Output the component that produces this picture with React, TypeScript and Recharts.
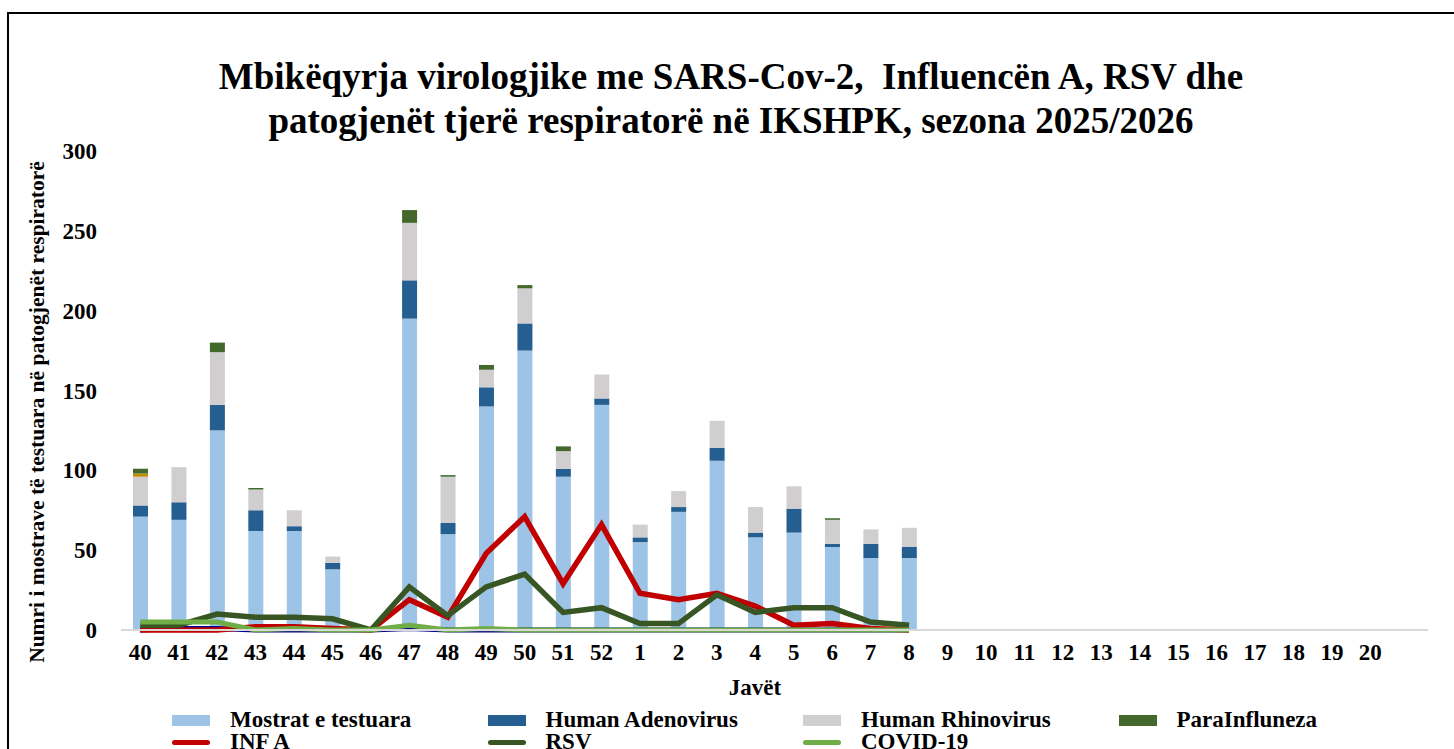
import React from 'react';
import { ComposedChart, Bar, Line, XAxis, YAxis } from 'recharts';

// week labels (last slot has no label)
const weeks = ['40', '41', '42', '43', '44', '45', '46', '47', '48', '49', '50', '51', '52',
  '1', '2', '3', '4', '5', '6', '7', '8', '9', '10', '11', '12', '13', '14', '15', '16', '17', '18', '19', '20', ''];

const mostrat = [71, 69, 125, 62, 62, 38, 0, 195, 60, 140, 175, 96, 141, 55, 74, 106, 58, 61, 52, 45, 45];
const adenovirus = [7, 11, 16, 13, 3, 4, 0, 24, 7, 12, 17, 5, 4, 3, 3, 8, 3, 15, 2, 9, 7];
const rhinovirus = [18, 22, 33, 13, 10, 4, 0, 36, 29, 11, 22, 11, 15, 8, 10, 17, 16, 14, 15, 9, 12];
const infB = [2, 0, 0, 0, 0, 0, 0, 0, 0, 0, 0, 0, 0, 0, 0, 0, 0, 0, 0, 0, 0];
const paraInfluneza = [3, 0, 6, 1, 0, 0, 0, 8, 1, 3, 2, 3, 0, 0, 0, 0, 0, 0, 1, 0, 0];

const infA = [0, 0, 0, 2, 2, 1, 0, 19, 8, 48, 71, 29, 66, 23, 19, 23, 15, 3, 4, 1, 0];
const rsv = [3, 3, 10, 8, 8, 7, 0, 27, 9, 27, 35, 11, 14, 4, 4, 22, 11, 14, 14, 5, 3];
const covid = [5, 5, 5, 0, 1, 0, 0, 3, 0, 1, 0, 0, 0, 0, 0, 0, 0, 0, 0, 0, 0];
const navyLine = [0, 1, 1, 0, 0, 0, 0, 1, 0, 0, 0, 0, 0, 0, 0, 0, 0, 0, 0, 0, 0];

const yTicks = [0, 50, 100, 150, 200, 250, 300];

const pick = (arr: number[], i: number) => (i < arr.length ? arr[i] : null);

const data = weeks.map((week, i) => ({
  week,
  mostrat: pick(mostrat, i),
  adeno: pick(adenovirus, i),
  rhino: pick(rhinovirus, i),
  infB: pick(infB, i),
  para: pick(paraInfluneza, i),
  infA: pick(infA, i),
  rsv: pick(rsv, i),
  covid: pick(covid, i),
  navy: pick(navyLine, i),
}));

const font = '"Liberation Serif", "Times New Roman", serif';

const legendItems = [
  { label: 'Mostrat e testuara', color: '#9dc3e6', kind: 'bar' },
  { label: 'Human Adenovirus', color: '#255e91', kind: 'bar' },
  { label: 'Human Rhinovirus', color: '#d0cece', kind: 'bar' },
  { label: 'ParaInfluneza', color: '#43682b', kind: 'bar' },
  { label: 'INF A', color: '#c00000', kind: 'line' },
  { label: 'RSV', color: '#375623', kind: 'line' },
  { label: 'COVID-19', color: '#70ad47', kind: 'line' },
];

const App: React.FC = () => {
  return (
    <div style={{ position: 'absolute', left: 0, top: 0, width: 1454, height: 749, overflow: 'hidden', background: '#fff', fontFamily: font }}>
      <div style={{ position: 'absolute', left: 7, top: 12, width: 1500, height: 800, border: '2.5px solid #000', boxSizing: 'border-box' }} />
      <div style={{ position: 'absolute', left: 0, width: 1462, top: 55, textAlign: 'center', fontWeight: 'bold', fontSize: 37, lineHeight: '44px', color: '#000' }}>
        Mbikëqyrja virologjike me SARS-Cov-2,&nbsp; Influencën A, RSV dhe<br />
        patogjenët tjerë respiratorë në IKSHPK, sezona 2025/2026
      </div>
      <div style={{ position: 'absolute', left: 37, top: 412, transform: 'translate(-50%, -50%) rotate(-90deg)', whiteSpace: 'nowrap', fontWeight: 'bold', fontSize: 21.5 }}>
        Numri i mostrave të testuara në patogjenët respiratorë
      </div>
      <div style={{ position: 'absolute', left: 755, top: 688, transform: 'translate(-50%, -50%)', fontWeight: 'bold', fontSize: 23 }}>
        Javët
      </div>
      <ComposedChart
        width={1454}
        height={749}
        data={data}
        margin={{ top: 151, right: 26, left: 61, bottom: 79 }}
        barGap={0}
        style={{ position: 'absolute', left: 0, top: 0 }}
      >
        <XAxis
          dataKey="week"
          interval={0}
          tickLine={false}
          tickSize={0}
          tickMargin={14}
          height={40}
          axisLine={{ stroke: '#d9d9d9', strokeWidth: 2 }}
          tick={{ fontSize: 23, fontWeight: 'bold', fill: '#000', fontFamily: font }}
        />
        <YAxis
          domain={[0, 300]}
          ticks={yTicks}
          width={60}
          axisLine={false}
          tickLine={false}
          tickSize={0}
          tickMargin={24}
          tick={{ fontSize: 23, fontWeight: 'bold', fill: '#000', fontFamily: font }}
        />
        <Bar dataKey="mostrat" stackId="a" fill="#9dc3e6" barSize={15} isAnimationActive={false} />
        <Bar dataKey="adeno" stackId="a" fill="#255e91" barSize={15} isAnimationActive={false} />
        <Bar dataKey="rhino" stackId="a" fill="#d0cece" barSize={15} isAnimationActive={false} />
        <Bar dataKey="infB" stackId="a" fill="#bf9000" barSize={15} isAnimationActive={false} />
        <Bar dataKey="para" stackId="a" fill="#43682b" barSize={15} isAnimationActive={false} />
        <Line dataKey="navy" stroke="#000090" strokeWidth={5} dot={false} isAnimationActive={false} />
        <Line dataKey="infA" stroke="#c00000" strokeWidth={5.5} dot={false} isAnimationActive={false} />
        <Line dataKey="rsv" stroke="#375623" strokeWidth={5.5} dot={false} isAnimationActive={false} />
        <Line dataKey="covid" stroke="#70ad47" strokeWidth={5} dot={false} isAnimationActive={false} />
      </ComposedChart>
      {legendItems.map((item, i) => {
        const col = i % 4;
        const row = Math.floor(i / 4);
        const x = 172 + col * 315.5;
        const y = 720 + row * 22;
        return (
          <div key={item.label} style={{ position: 'absolute', left: x, top: y - 11, height: 22, lineHeight: '22px', display: 'flex', alignItems: 'center', whiteSpace: 'nowrap' }}>
            {item.kind === 'bar' ? (
              <span style={{ display: 'inline-block', width: 38, height: 11, background: item.color }} />
            ) : (
              <span style={{ display: 'inline-block', width: 38, height: 5, borderRadius: 3, background: item.color }} />
            )}
            <span style={{ marginLeft: 20, fontWeight: 'bold', fontSize: 23, color: '#000' }}>{item.label}</span>
          </div>
        );
      })}
    </div>
  );
};

export default App;
